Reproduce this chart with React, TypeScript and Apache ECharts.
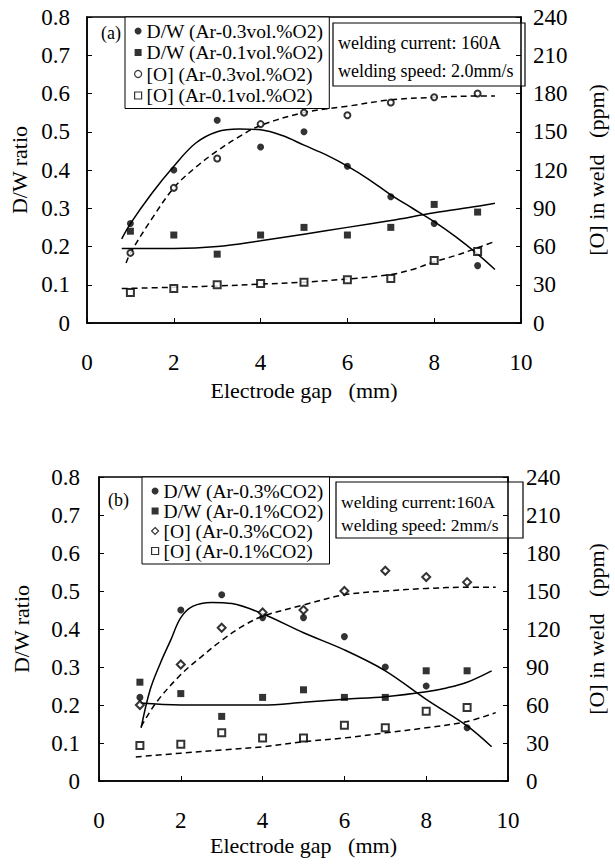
import React, { useEffect, useRef } from "react";
import * as echarts from "echarts";

const FONT = "Liberation Serif";

// Electrode gap (mm)
const GAP = [1, 2, 3, 4, 5, 6, 7, 8, 9];

// (a) O2 shielding
const A_DW_03 = [0.26, 0.40, 0.53, 0.46, 0.50, 0.41, 0.33, 0.26, 0.15];
const A_DW_01 = [0.24, 0.23, 0.18, 0.23, 0.25, 0.23, 0.25, 0.31, 0.29];
const A_O_03 = [55, 106, 129, 156, 165, 163, 173, 177, 180];
const A_O_01 = [24, 27, 30, 31, 32, 34, 35, 49, 56];

// (a) fitted curves
const FIT_A1_X = [0.8, 1, 1.5, 2, 2.5, 3, 3.5, 4, 4.5, 5, 5.5, 6, 6.5, 7, 7.5, 8, 8.5, 9, 9.4];
const FIT_A1_Y = [0.22, 0.26, 0.34, 0.41, 0.47, 0.5, 0.507, 0.505, 0.49, 0.465, 0.44, 0.41, 0.375, 0.335, 0.3, 0.265, 0.225, 0.18, 0.14];
const FIT_A2_X = [0.8, 1, 2, 3, 4, 5, 6, 7, 8, 9, 9.4];
const FIT_A2_Y = [0.195, 0.195, 0.195, 0.2, 0.215, 0.232, 0.25, 0.268, 0.288, 0.305, 0.313];
const FIT_A3_X = [0.9, 1, 1.5, 2, 2.5, 3, 3.5, 4, 5, 6, 7, 8, 9, 9.4];
const FIT_A3_Y = [47, 55, 82, 106, 122, 135, 146, 155, 165, 170, 175, 177, 178, 178];
const FIT_A4_X = [0.8, 2, 3, 4, 5, 6, 7, 7.5, 8, 8.5, 9, 9.4];
const FIT_A4_Y = [27, 28, 29, 30.5, 32, 34.5, 38, 42, 48, 53, 59, 64];

// (b) CO2 shielding
const B_DW_03 = [0.22, 0.45, 0.49, 0.43, 0.43, 0.38, 0.30, 0.25, 0.14];
const B_DW_01 = [0.26, 0.23, 0.17, 0.22, 0.24, 0.22, 0.22, 0.29, 0.29];
const B_O_03 = [60, 92, 121, 133, 135, 150, 166, 161, 157];
const B_O_01 = [28, 29, 38, 34, 34, 44, 42, 55, 58];

// (b) fitted curves
const FIT_B1_X = [1.03, 1.25, 1.5, 1.75, 2, 2.3, 2.75, 3.25, 4, 5, 6, 7, 8, 9, 9.6];
const FIT_B1_Y = [0.14, 0.24, 0.31, 0.37, 0.43, 0.46, 0.47, 0.467, 0.44, 0.39, 0.345, 0.29, 0.215, 0.145, 0.09];
const FIT_B2_X = [1, 2, 3, 4, 5, 6, 7, 8, 8.5, 9, 9.6];
const FIT_B2_Y = [0.205, 0.2, 0.2, 0.2, 0.207, 0.215, 0.222, 0.235, 0.245, 0.26, 0.29];
const FIT_B3_X = [1.03, 1.4, 2, 2.5, 3, 3.5, 4, 5, 6, 7, 8, 9, 9.7];
const FIT_B3_Y = [43, 62, 84, 98, 111, 122, 130, 139, 147, 150, 152, 153, 153];
const FIT_B4_X = [0.9, 2, 3, 4, 5, 6, 7, 8, 9, 9.7];
const FIT_B4_Y = [19, 22, 24.5, 27, 31, 34, 38, 42, 47, 54];

const X_TICKS = { min: 0, max: 10, interval: 2 };
const DW_AXIS = { min: 0, max: 0.8, interval: 0.1 };
const O_AXIS = { min: 0, max: 240, interval: 30 };

const NAMES_A = ["D/W (Ar-0.3vol.%O2)", "D/W (Ar-0.1vol.%O2)", "[O] (Ar-0.3vol.%O2)", "[O] (Ar-0.1vol.%O2)"];
const NAMES_B = ["D/W (Ar-0.3%CO2)", "D/W (Ar-0.1%CO2)", "[O] (Ar-0.3%CO2)", "[O] (Ar-0.1%CO2)"];
const INFO_A = ["welding current: 160A", "welding speed: 2.0mm/s"];
const INFO_B = ["welding current:160A", "welding speed: 2mm/s"];

const zip = (xs: number[], ys: number[]) => xs.map((x, i) => [x, ys[i]]);

const SYMS = [
  { symbol: "circle", icon: "circle", size: 7, hollow: false },
  { symbol: "rect", icon: "rect", size: 7, hollow: false },
  { symbol: "emptyCircle", icon: "circle", size: 6, hollow: true },
  { symbol: "emptyRect", icon: "rect", size: 7, hollow: true },
];
const SYMS_B = [
  { symbol: "circle", icon: "circle", size: 7, hollow: false },
  { symbol: "rect", icon: "rect", size: 7, hollow: false },
  { symbol: "emptyDiamond", icon: "diamond", size: 8, hollow: true },
  { symbol: "emptyRect", icon: "rect", size: 7, hollow: true },
];

function scatter(name: string, ys: number[], sym: any, xi: number, yi: number) {
  return {
    type: "scatter",
    name,
    xAxisIndex: xi,
    yAxisIndex: yi,
    symbol: sym.symbol,
    symbolSize: sym.size,
    data: zip(GAP, ys),
    itemStyle: sym.hollow
      ? { color: "#000", borderColor: "#000", borderWidth: 1.2 }
      : { color: "#000" },
    z: 5,
  };
}

function curve(xs: number[], ys: number[], dashed: boolean, xi: number, yi: number) {
  return {
    type: "line",
    xAxisIndex: xi,
    yAxisIndex: yi,
    data: zip(xs, ys),
    smooth: 0.35,
    showSymbol: false,
    silent: true,
    lineStyle: { color: "#000", width: 1.5, type: dashed ? [6, 4] : "solid" },
    z: 3,
  };
}

const LABEL_SIZE = 23;
const NAME_SIZE = 22;

function xAxis(gi: number, nameGap: number) {
  return {
    gridIndex: gi,
    type: "value",
    ...X_TICKS,
    axisLine: { show: true, lineStyle: { color: "#000", width: 1.5 } },
    splitLine: { show: false },
    axisTick: { inside: true, length: 5, lineStyle: { color: "#000" } },
    axisLabel: { margin: 28, fontSize: LABEL_SIZE, color: "#000", fontFamily: FONT },
    name: "Electrode gap   (mm)",
    nameLocation: "middle",
    nameGap,
    nameTextStyle: { fontSize: NAME_SIZE, color: "#000", fontFamily: FONT },
  };
}

function yAxisL(gi: number, nameGap: number, margin: number) {
  return {
    gridIndex: gi,
    type: "value",
    ...DW_AXIS,
    position: "left",
    axisLine: { show: true, lineStyle: { color: "#000", width: 1.5 } },
    splitLine: { show: false },
    axisTick: { inside: true, length: 5, lineStyle: { color: "#000" } },
    axisLabel: { margin, fontSize: LABEL_SIZE, color: "#000", fontFamily: FONT },
    name: "D/W ratio",
    nameLocation: "middle",
    nameRotate: 90,
    nameGap,
    nameTextStyle: { fontSize: NAME_SIZE, color: "#000", fontFamily: FONT },
  };
}

function yAxisR(gi: number, nameGap: number, margin: number) {
  return {
    gridIndex: gi,
    type: "value",
    ...O_AXIS,
    position: "right",
    axisLine: { show: true, lineStyle: { color: "#000", width: 1.5 } },
    splitLine: { show: false },
    axisTick: { inside: true, length: 5, lineStyle: { color: "#000" } },
    axisLabel: { margin, fontSize: LABEL_SIZE, color: "#000", fontFamily: FONT },
    name: "[O] in weld   (ppm)",
    nameLocation: "middle",
    nameRotate: 90,
    nameGap,
    nameTextStyle: { fontSize: NAME_SIZE, color: "#000", fontFamily: FONT },
  };
}

function legend(names: string[], syms: any[], left: number, top: number, gap: number) {
  return {
    orient: "vertical",
    left,
    top,
    padding: [4, 6, 3, 9],
    itemGap: gap,
    itemWidth: 7,
    itemHeight: 7,
    borderColor: "#000",
    borderWidth: 1,
    backgroundColor: "#fff",
    selectedMode: false,
    textStyle: { fontSize: 19.5, color: "#000", fontFamily: FONT },
    data: names.map((n, i) => ({
      name: n,
      icon: syms[i].icon,
      itemStyle: syms[i].hollow
        ? { color: "#fff", borderColor: "#000", borderWidth: 1.2 }
        : { color: "#000", borderWidth: 0 },
    })),
    z: 10,
  };
}

function infoBox(x: number, y: number, w: number, h: number, lines: string[], ly: number[], fs: number) {
  return {
    type: "group",
    z: 20,
    children: [
      {
        type: "rect",
        shape: { x, y, width: w, height: h },
        style: { fill: "#fff", stroke: "#000", lineWidth: 1.2 },
      },
      ...lines.map((t, i) => ({
        type: "text",
        x: x + 5,
        y: ly[i],
        style: { text: t, fontSize: fs, fontFamily: FONT, fill: "#000", verticalAlign: "middle" },
      })),
    ],
  };
}

export default function App() {
  const ref = useRef<HTMLDivElement>(null);
  useEffect(() => {
    if (!ref.current) return;
    const chart = echarts.init(ref.current, null, { renderer: "svg" });
    const option: any = {
      animation: false,
      backgroundColor: "#fff",
      textStyle: { fontFamily: FONT, color: "#000" },
      grid: [
        { left: 87, top: 17, width: 444, height: 306, show: true, borderColor: "#000", borderWidth: 1.5, backgroundColor: "transparent" },
        { left: 99, top: 477, width: 426, height: 304, show: true, borderColor: "#000", borderWidth: 1.5, backgroundColor: "transparent" },
      ],
      xAxis: [xAxis(0, 56), xAxis(1, 53)],
      yAxis: [yAxisL(0, 55, 17), yAxisR(0, 64, 12), yAxisL(1, 67, 19), yAxisR(1, 77, 18)],
      legend: [legend(NAMES_A, SYMS, 125, 17, 1.5), legend(NAMES_B, SYMS_B, 142, 477, 0)],
      graphic: [
        infoBox(333, 23, 192, 63, INFO_A, [43, 71], 18),
        infoBox(336, 482, 187, 56, INFO_B, [502, 525], 17.5),
        { type: "text", x: 101, y: 33, z: 20, style: { text: "(a)", fontSize: 18, fontFamily: FONT, fill: "#000", verticalAlign: "middle" } },
        { type: "text", x: 108, y: 500, z: 20, style: { text: "(b)", fontSize: 18, fontFamily: FONT, fill: "#000", verticalAlign: "middle" } },
      ],
      series: [
        scatter(NAMES_A[0], A_DW_03, SYMS[0], 0, 0),
        scatter(NAMES_A[1], A_DW_01, SYMS[1], 0, 0),
        scatter(NAMES_A[2], A_O_03, SYMS[2], 0, 1),
        scatter(NAMES_A[3], A_O_01, SYMS[3], 0, 1),
        curve(FIT_A1_X, FIT_A1_Y, false, 0, 0),
        curve(FIT_A2_X, FIT_A2_Y, false, 0, 0),
        curve(FIT_A3_X, FIT_A3_Y, true, 0, 1),
        curve(FIT_A4_X, FIT_A4_Y, true, 0, 1),
        scatter(NAMES_B[0], B_DW_03, SYMS_B[0], 1, 2),
        scatter(NAMES_B[1], B_DW_01, SYMS_B[1], 1, 2),
        scatter(NAMES_B[2], B_O_03, SYMS_B[2], 1, 3),
        scatter(NAMES_B[3], B_O_01, SYMS_B[3], 1, 3),
        curve(FIT_B1_X, FIT_B1_Y, false, 1, 2),
        curve(FIT_B2_X, FIT_B2_Y, false, 1, 2),
        curve(FIT_B3_X, FIT_B3_Y, true, 1, 3),
        curve(FIT_B4_X, FIT_B4_Y, true, 1, 3),
      ],
    };
    chart.setOption(option);
    return () => chart.dispose();
  }, []);
  return (
    <div
      ref={ref}
      style={{ position: "fixed", left: 0, top: 0, width: 615, height: 867, background: "#fff" }}
    />
  );
}
